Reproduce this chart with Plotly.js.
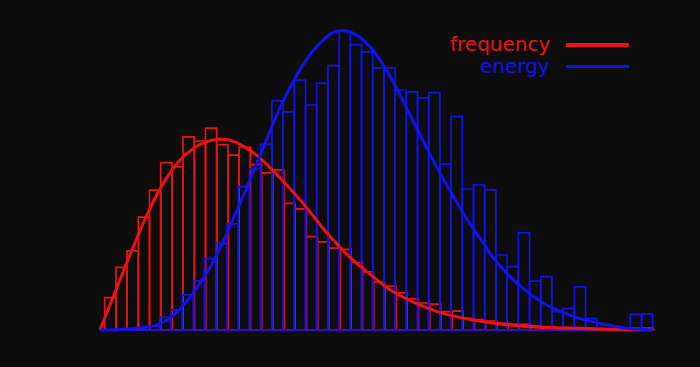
<!DOCTYPE html>
<html>
<head>
<meta charset="utf-8">
<script src="https://cdn.plot.ly/plotly-3.0.1.min.js"></script>
<style>
html,body{margin:0;padding:0;background:#0d0d0d;}
#chart{width:700px;height:367px;}
</style>
</head>
<body>
<div id="chart"></div>
<script>
// Histogram bin layout (in axis units)
var binWidth = 1.0;
var redStart = 0.42;
var blueStart = 0.35;

// Histogram heights
var frequencyCounts = [10.8, 20.9, 26.4, 37.6, 46.6, 55.8, 54.4, 64.4, 63.0, 67.3,
  61.8, 58.3, 61.0, 55.1, 52.4, 53.4, 42.2, 40.4, 31.1, 29.4,
  27.3, 26.9, 22.5, 19.4, 16.0, 14.6, 12.4, 10.4, 9.0, 8.6,
  6.1, 6.3, 3.9, 3.5, 3.0, 2.2, 2.0, 1.9, 1.4, 1.1,
  0.8, 0.8, 0.8, 0.6, 0.3, 0.3, 0.3, 0.6, 0.6];
var energyCounts = [0, 0.2, 0.3, 0.8, 1.3, 4.2, 6.7, 11.7, 16.4, 23.8,
  28.9, 35.4, 47.8, 53.6, 61.9, 76.4, 72.7, 83.3, 75.0, 82.3,
  88.1, 99.6, 95.1, 92.7, 87.4, 87.4, 80.0, 79.4, 77.4, 79.1,
  55.3, 71.1, 47.0, 48.4, 46.7, 25.0, 21.1, 32.4, 16.3, 17.8,
  6.1, 7.2, 14.4, 3.8, 0.6, 0.3, 0.3, 5.2, 5.4];

// Fitted curves
var freqCurveX = [0, 1, 2, 3, 4, 5, 6, 7, 8, 9, 10, 11, 12, 13, 14, 15, 16, 17, 18, 19, 20,
  22, 24, 26, 28, 30, 32, 34, 36, 38, 40, 44, 49.3];
var freqCurveY = [0, 9.4, 18.8, 28.0, 36.8, 44.5, 51.0, 56.0, 59.6, 62.0, 63.3, 63.6, 62.8, 60.8,
  58.2, 54.8, 51.0, 47.0, 42.8, 38.2, 33.5, 25.4, 18.9, 13.2, 9.3, 6.3, 4.3, 2.9, 1.9, 1.2, 0.8, 0.35, 0.1];
var energyCurveX = [0, 2, 4, 5, 6, 7, 8, 9, 10, 11, 12, 13, 14, 15, 16, 17, 18, 19, 20, 21, 22,
  23, 24, 25, 26, 27, 28, 29, 30, 31, 32, 33, 34, 35, 36, 37, 38, 39, 40, 41, 42, 43, 44, 45,
  46, 47, 48, 49.26];
var energyCurveY = [0, 0.2, 0.8, 1.6, 3.3, 6.4, 10.8, 16.0, 22.0, 29.5, 38.0, 46.5, 55.5, 64.5,
  73.5, 81.0, 87.7, 92.9, 96.9, 99.5, 99.7, 98.2, 94.8, 90.0, 83.9, 76.8, 69.3, 62.0, 54.8,
  48.1, 41.6, 35.6, 30.2, 24.6, 20.2, 16.4, 13.2, 10.4, 8.1, 6.4, 4.9, 3.7, 2.7, 1.9, 1.2,
  0.6, 0.3, 0];

var seriesNames = ['frequency', 'energy'];
var RED = '#ee1111';
var BLUE = '#1111ee';

function centers(start, n) {
  var c = [];
  for (var i = 0; i < n; i++) c.push(start + (i + 0.5) * binWidth);
  return c;
}

var traces = [
  {type: 'bar', x: centers(redStart, frequencyCounts.length), y: frequencyCounts,
   width: binWidth, marker: {color: 'rgba(0,0,0,0)', line: {color: RED, width: 1.7}},
   showlegend: false, hoverinfo: 'skip'},
  {type: 'bar', x: centers(blueStart, energyCounts.length), y: energyCounts,
   width: binWidth, marker: {color: 'rgba(0,0,0,0)', line: {color: BLUE, width: 1.7}},
   showlegend: false, hoverinfo: 'skip'},
  {type: 'scatter', mode: 'lines', x: freqCurveX, y: freqCurveY, name: seriesNames[0],
   line: {color: RED, width: 3, shape: 'spline', smoothing: 1}, showlegend: false},
  {type: 'scatter', mode: 'lines', x: energyCurveX, y: energyCurveY, name: seriesNames[1],
   line: {color: BLUE, width: 3, shape: 'spline', smoothing: 1}, showlegend: false}
];

var hidden = {showgrid: false, zeroline: false, showticklabels: false, showline: false, ticks: ''};

var layout = {
  width: 700, height: 367,
  paper_bgcolor: '#0d0d0d', plot_bgcolor: '#0d0d0d',
  margin: {l: 90, r: 40, t: 20, b: 34},
  barmode: 'overlay', bargap: 0,
  showlegend: false,
  xaxis: Object.assign({range: [-0.8929, 50]}, hidden),
  yaxis: Object.assign({range: [-1, 103.333]}, hidden),
  annotations: [
    {xref: 'paper', yref: 'paper', x: 0.8105, y: 0.9233, xanchor: 'right', yanchor: 'middle',
     text: seriesNames[0], showarrow: false, font: {family: 'DejaVu Sans', size: 20, color: RED}},
    {xref: 'paper', yref: 'paper', x: 0.8105, y: 0.853, xanchor: 'right', yanchor: 'middle',
     text: seriesNames[1], showarrow: false, font: {family: 'DejaVu Sans', size: 20, color: BLUE}}
  ],
  shapes: [
    {type: 'line', xref: 'paper', yref: 'paper', x0: 0.8351, x1: 0.9456, y0: 0.9201, y1: 0.9201,
     line: {color: RED, width: 4}},
    {type: 'line', xref: 'paper', yref: 'paper', x0: 0.8351, x1: 0.9456, y0: 0.8514, y1: 0.8514,
     line: {color: BLUE, width: 3}}
  ]
};

Plotly.newPlot('chart', traces, layout, {displayModeBar: false, staticPlot: true});
</script>
</body>
</html>
